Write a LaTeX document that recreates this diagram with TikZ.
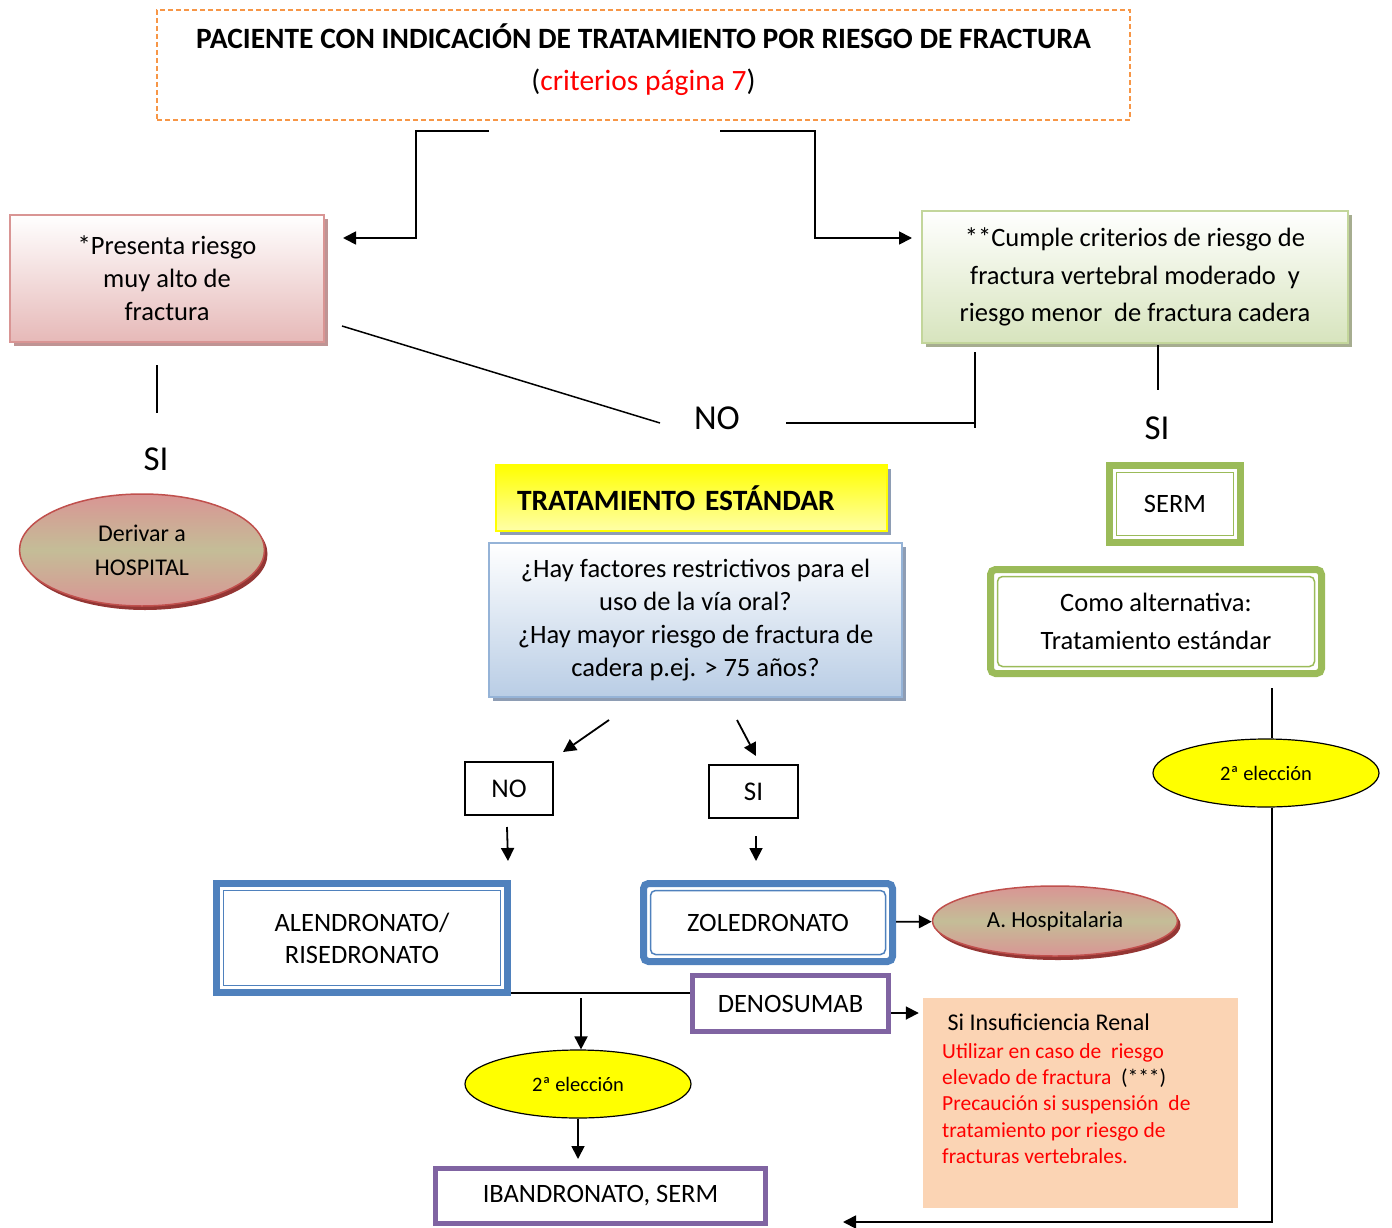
\documentclass[tikz,border=0pt]{standalone}
\usepackage{fontspec}
\setmainfont{Carlito}
\usepackage{tikz}
\usetikzlibrary{arrows.meta}
\usetikzlibrary{positioning}
\usetikzlibrary{shapes}
\usetikzlibrary{shadows}

\definecolor{naranja}{HTML}{F79646}
\definecolor{rosaborde}{HTML}{D99594}
\definecolor{rosafondo}{HTML}{E6B9B8}
\definecolor{rosasombra}{HTML}{BF9494}
\definecolor{verdeborde}{HTML}{C3D69B}
\definecolor{verdefondo}{HTML}{D7E4BD}
\definecolor{verdesombra}{HTML}{A6AD90}
\definecolor{verdedoble}{HTML}{9BBB59}
\definecolor{azulborde}{HTML}{95B3D7}
\definecolor{azulfondo}{HTML}{B9CDE5}
\definecolor{grissombra}{HTML}{8E9DB4}
\definecolor{azuldoble}{HTML}{4F81BD}
\definecolor{morado}{HTML}{8064A2}
\definecolor{rojoelipse}{HTML}{C0504D}
\definecolor{olivo}{HTML}{C4BD97}
\definecolor{granate}{HTML}{943634}
\definecolor{melocoton}{HTML}{FBD4B4}
\definecolor{amarillo}{HTML}{FFFF00}
\definecolor{amarilloclaro}{HTML}{FFFFA8}

\begin{document}
\begin{tikzpicture}[x=1pt, y=-1pt, >={Triangle[length=13pt,width=13pt]},              % pixel grid, y pointing down
        every node/.style = {inner sep=0pt, align=center, font=\fontsize{26.5}{33}\selectfont},
        flecha/.style = {line width=1.8pt},                                                   % connectors
        sombrabox/.style n args = {3}{draw=#1, line width=1.5pt, top color=white, bottom color=#2,
                                      drop shadow={shadow xshift=4pt, shadow yshift=-4pt, fill=#3, opacity=1}},
        dblbox/.style = {draw=#1, line width=7pt, fill=white,                                 % thick + thin frame
                         path picture={\draw[#1, line width=1.5pt]
                             ([xshift=7pt, yshift=-7pt]path picture bounding box.north west) rectangle
                             ([xshift=-7pt, yshift=7pt]path picture bounding box.south east);}},
        purplebox/.style = {draw=morado, line width=5pt, fill=white},
        smallbox/.style = {draw=black, line width=1.3pt, font=\fontsize{27}{27}\selectfont},
        bigtag/.style = {font=\fontsize{35}{35}\selectfont},
        hosp/.style = {ellipse, draw=rojoelipse, line width=1.5pt, top color=rosaborde, bottom color=rosaborde,
                       middle color=olivo, drop shadow={shadow xshift=3pt, shadow yshift=-4pt, fill=granate, opacity=1}},
        eleccion/.style = {ellipse, draw=black, line width=1.2pt, fill=amarillo, minimum width=226pt,
                           minimum height=68pt, font=\fontsize{20.5}{24}\selectfont}]
    \useasboundingbox (0,0) rectangle (1392,1228);

    % cabecera
    \node[draw=naranja, line width=1.5pt, dash pattern=on 5pt off 3pt, minimum width=973pt, minimum height=110pt]
          (titulo) at (643.5,65) {};
    \node[font=\fontsize{29.5}{42}\selectfont] (titulotxt) at (643.5,60)
          {\textbf{PACIENTE CON INDICACIÓN DE TRATAMIENTO POR RIESGO DE FRACTURA}\\(\textcolor{red}{criterios página 7})};

    % dos ramas
    \node[sombrabox={rosaborde}{rosafondo}{rosasombra}, minimum width=314pt, minimum height=127pt] (muyalto) at (167,278.5)
          {*Presenta riesgo\\muy alto de\\fractura};
    \node[sombrabox={verdeborde}{verdefondo}{verdesombra}, minimum width=426pt, minimum height=132pt,
          font=\fontsize{26.5}{37.5}\selectfont] (moderado) at (1135,277)
          {**Cumple criterios de riesgo de\\fractura vertebral moderado\ \ y\\riesgo menor\ \ de fractura cadera};
    \node[bigtag] (siizq) at (156,459) {SI};
    \node[bigtag] (noetq) at (717,418) {NO};
    \node[bigtag] (sider) at (1157,428) {SI};
    \node[hosp, minimum width=245pt, minimum height=112pt, font=\fontsize{24}{34}\selectfont] (derivar) at (142,550)
          {Derivar a\\HOSPITAL};

    % tratamiento estandar
    \node[sombrabox={amarillo}{amarilloclaro}{grissombra}, top color=amarillo, minimum width=391pt, minimum height=66pt,
          text width=349pt, inner xsep=21pt, align=left, font=\fontsize{29.5}{32}\bfseries] (estandar) at (691.5,498)
          {TRATAMIENTO ESTÁNDAR};
    \node[sombrabox={azulborde}{azulfondo}{grissombra}, minimum width=413pt, minimum height=154pt] (pregunta) at (695.5,620)
          {¿Hay factores restrictivos para el\\uso de la vía oral?\\¿Hay mayor riesgo de fractura de\\cadera p.ej. > 75 años?};
    \node[dblbox=verdedoble, minimum width=131pt, minimum height=77pt] (serm) at (1175,504) {SERM};
    \node[dblbox=verdedoble, rounded corners=5pt, minimum width=331pt, minimum height=104pt,
          font=\fontsize{26.5}{38}\selectfont] (alternativa) at (1156,621.5) {Como alternativa:\\Tratamiento estándar};

    \node[smallbox, minimum width=88pt, minimum height=53pt] (nobox) at (509,788.5) {NO};
    \node[smallbox, minimum width=89pt, minimum height=53pt] (sibox) at (753.5,791.5) {SI};

    % farmacos
    \node[dblbox=azuldoble, minimum width=291pt, minimum height=109pt, font=\fontsize{26.5}{32}\selectfont] (alen)
          at (362,938) {ALENDRONATO/\\RISEDRONATO};
    \node[dblbox=azuldoble, rounded corners=5pt, minimum width=249pt, minimum height=78pt] (zole) at (768,922.5) {ZOLEDRONATO};
    \node[hosp, minimum width=245pt, minimum height=70pt, font=\fontsize{23}{26}\selectfont] (hospital) at (1055,921)
          {A. Hospitalaria};
    \node[purplebox, minimum width=196pt, minimum height=56pt] (deno) at (790.5,1003.5) {DENOSUMAB};
    \node[fill=melocoton, minimum width=315pt, minimum height=210pt] (renal) at (1080.5,1103) {};
    \node[anchor=north west, align=left, font=\fontsize{21.5}{26.3}\selectfont, text=red] (renaltxt) at (942,1014)
          {\textcolor{black}{\fontsize{24}{26}\selectfont\ Si Insuficiencia Renal}\\[1pt]
           Utilizar en caso de\ \ riesgo\\elevado de fractura\ \ \textcolor{black}{(***)}\\
           Precaución si suspensión\ \ de\\tratamiento por riesgo de\\fracturas vertebrales.};
    \node[eleccion] (elec1) at (578,1084) {2ª elección};
    \node[purplebox, minimum width=330pt, minimum height=55pt] (iban) at (600.5,1196) {IBANDRONATO, SERM};
    \node[eleccion] (elec2) at (1266,773) {2ª elección};

    % extremos libres
    \coordinate (tl) at (489,131);
    \coordinate (tr) at (720,131);
    \coordinate (muyin) at (343,238);
    \coordinate (modin) at (912,238);
    \coordinate (muyno) at (342,326);
    \coordinate (nol) at (660,423);
    \coordinate (nor) at (786,423);
    \coordinate (modno) at (975,352);
    \coordinate (modsi) at (1158,345);
    \coordinate (muysi) at (157,365);
    \coordinate (pregno) at (609,720);
    \coordinate (noin) at (563,752);
    \coordinate (pregsi) at (737,720);
    \coordinate (siin) at (756,756);
    \coordinate (noout) at (507,827);
    \coordinate (alenin) at (508,861);
    \coordinate (siout) at (756,836);
    \coordinate (zolein) at (756,861);
    \coordinate (alenout) at (581,998);
    \coordinate (alenbr) at ([yshift=3pt]alen.south east);
    \coordinate (denoout) at ([yshift=-9.5pt]deno.east);
    \coordinate (altout) at (1272,688);
    \coordinate (retorno) at (843,1222);

    %lineas
    \draw[flecha] (muysi) -- ++(0,48);
    \draw[flecha] (modsi) -- ++(0,45);
    \draw[flecha] (modno) -- ++(0,76);
    \draw[line width=1.5pt] (muyno) -- (nol);
    \draw[line width=1.5pt] (nor) -- (nor -| modno);
    \draw[line width=1.5pt] (alenbr) -- (alenbr -| deno.west);
    \draw[flecha] (altout) -- (altout |- elec2.north);
    %flechas
    \draw[flecha, ->] (tl) -- ++(-73,0) |- (muyin);
    \draw[flecha, ->] (tr) -- ++(95,0) |- (modin);
    \path[flecha, ->]
        (pregno) edge (noin)
        (pregsi) edge (siin)
        (noout) edge (alenin)
        (siout) edge (zolein)
        (zole) edge (hospital)
        (denoout) edge[shorten >=4pt] (denoout -| renal.west)
        (alenout) edge (alenout |- elec1.north)
        (elec1.south) edge[shorten >=7pt] (elec1.south |- iban.north);
    \draw[flecha, ->] (altout |- elec2.south) |- (retorno);
\end{tikzpicture}
\end{document}
